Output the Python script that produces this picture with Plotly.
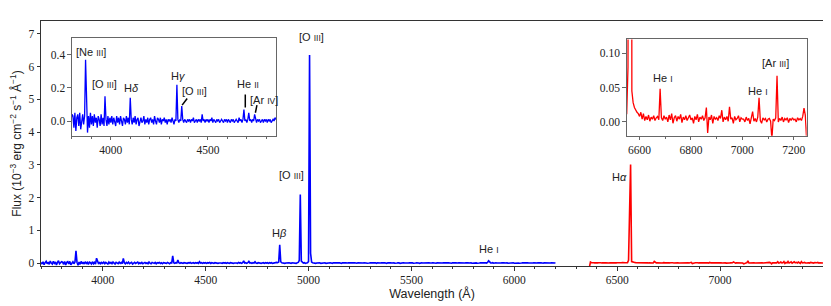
import plotly.graph_objects as go

# ---------------- data ----------------
blue_start = 3700.0   # Angstrom, first sample of the blue arm
blue_step = 5.0
blue_flux = (
    # 3700-3800
    [0.02, -0.03, 0.04, -0.05, 0.01, 0.05, -0.02, 0.03, -0.04, 0.06, 0.00,
     -0.03, 0.05, -0.01, 0.03, -0.06, 0.02, 0.07, -0.02, 0.01, 0.04]
    # 3805-3900
    + [0.03, -0.04, 0.05, -0.06, 0.02, 0.04, -0.03, 0.05, -0.05, 0.01,
       0.04, -0.02, 0.03, 0.37, 0.02, -0.07, 0.03, -0.04, 0.05, -0.02]
    # 3905-4000
    + [0.03, -0.03, 0.04, -0.01, 0.02, -0.04, 0.03, 0.01, -0.03, 0.04,
       -0.02, 0.02, -0.03, 0.15, 0.01, -0.03, 0.03, -0.02, 0.02, -0.01]
    # 4005-4100
    + [0.03, -0.02, 0.02, 0.00, -0.03, 0.03, -0.01, 0.02, -0.02, 0.03,
       0.00, -0.03, 0.02, 0.01, -0.02, 0.03, -0.01, 0.02, -0.02, 0.14]
    # 4105-4200
    + [0.01, -0.02, 0.02, -0.01, 0.03, -0.02, 0.01, 0.02, -0.03, 0.01,
       0.02, -0.01, 0.00, 0.03, -0.02, 0.01, -0.01, 0.02, -0.02, 0.01]
    # 4205-4300
    + [0.02, -0.01, 0.01, -0.02, 0.03, 0.00, -0.02, 0.02, 0.01, -0.01,
       0.02, -0.02, 0.01, 0.00, 0.02, -0.01, 0.01, -0.02, 0.01, 0.00]
    # 4305-4400
    + [0.01, -0.01, 0.02, 0.00, -0.02, 0.01, 0.00, 0.22, 0.01, -0.01,
       0.01, 0.00, 0.09, 0.01, -0.01, 0.01, 0.00, -0.01, 0.01, 0.00]
    # 4405-4500
    + [0.01, -0.01, 0.01, 0.00, 0.02, -0.01, 0.00, 0.01, -0.01, 0.01,
       0.00, 0.01, -0.01, 0.04, 0.00, 0.01, -0.01, 0.01, 0.00, 0.01]
    # 4505-4600
    + [-0.01, 0.01, 0.00, 0.02, -0.01, 0.01, 0.00, -0.01, 0.01, 0.00,
       0.01, -0.01, 0.00, 0.01, 0.00, -0.01, 0.01, 0.00, 0.01, -0.01]
    # 4605-4700
    + [0.01, 0.00, -0.01, 0.01, 0.00, 0.01, -0.01, 0.00, 0.01, 0.00,
       -0.01, 0.02, 0.00, 0.01, -0.01, 0.01, 0.07, 0.00, 0.01, -0.01]
    # 4705-4800
    + [0.01, 0.05, 0.00, 0.01, -0.01, 0.01, 0.00, 0.04, 0.00, -0.01,
       0.01, 0.00, 0.01, -0.01, 0.00, 0.01, -0.01, 0.01, 0.00, 0.01]
    # 4805-4900
    + [-0.01, 0.01, 0.00, 0.01, -0.01, 0.00, 0.01, 0.00, 0.02, 0.01,
       0.03, 0.56, 0.04, 0.01, 0.00, 0.01, -0.01, 0.00, 0.01, 0.00]
    # 4905-5000
    + [0.01, 0.00, -0.01, 0.01, 0.00, 0.01, 0.00, -0.01, 0.01, 0.02,
       0.08, 2.09, 0.06, 0.01, 0.00, 0.01, -0.01, 0.00, 0.01, 0.05]
    # 5005-5100
    + [6.35, 0.30, 0.03, 0.01, 0.00, 0.01, -0.01, 0.00, 0.01, 0.00,
       0.01, -0.01, 0.00, 0.01, 0.00, 0.01, -0.01, 0.00, 0.01, 0.00]
    # 5105-5200
    + [0.01, 0.00, -0.01, 0.01, 0.005, 0.00, 0.01, -0.005, 0.005, 0.01,
       0.00, -0.01, 0.01, 0.00, 0.005, 0.01, -0.005, 0.00, 0.01, 0.005]
    # 5205-5300
    + [0.00, 0.01, -0.01, 0.005, 0.01, 0.00, -0.005, 0.01, 0.005, 0.00,
       0.01, -0.01, 0.00, 0.005, 0.01, 0.00, -0.005, 0.01, 0.00, 0.005]
    # 5305-5400
    + [0.01, -0.005, 0.00, 0.01, 0.005, -0.01, 0.01, 0.00, 0.005, 0.00,
       0.01, -0.005, 0.005, 0.01, 0.00, -0.01, 0.005, 0.01, 0.00, 0.005]
    # 5405-5500
    + [0.00, 0.01, 0.005, -0.005, 0.01, 0.00, 0.005, 0.01, -0.01, 0.005,
       0.00, 0.01, 0.005, 0.00, -0.005, 0.01, 0.00, 0.005, 0.01, 0.00]
    # 5505-5600
    + [0.005, -0.005, 0.01, 0.00, 0.005, 0.01, 0.00, -0.01, 0.005, 0.01,
       0.00, 0.005, -0.005, 0.01, 0.00, 0.005, 0.01, 0.00, -0.005, 0.005]
    # 5605-5700
    + [0.01, 0.00, 0.005, -0.005, 0.01, 0.005, 0.00, 0.01, -0.005, 0.00,
       0.01, 0.005, 0.00, -0.01, 0.005, 0.01, 0.00, 0.005, -0.005, 0.01]
    # 5705-5800
    + [0.00, 0.005, 0.01, -0.005, 0.00, 0.01, 0.005, 0.00, -0.005, 0.01,
       0.005, 0.00, 0.01, -0.005, 0.005, 0.00, 0.01, 0.005, -0.005, 0.00]
    # 5805-5900
    + [0.01, 0.00, 0.005, -0.005, 0.01, 0.00, 0.005, 0.01, -0.005, 0.00,
       0.005, 0.01, 0.00, 0.02, 0.07, 0.02, 0.005, 0.00, 0.01, -0.005]
    # 5905-6000
    + [0.005, 0.01, 0.00, -0.005, 0.01, 0.005, 0.00, 0.01, -0.005, 0.005,
       0.00, 0.01, 0.005, -0.005, 0.00, 0.01, 0.005, 0.00, 0.01, -0.005]
    # 6005-6100
    + [0.00, 0.01, 0.005, 0.00, -0.005, 0.01, 0.00, 0.005, 0.01, -0.005,
       0.00, 0.005, 0.01, 0.00, -0.005, 0.01, 0.005, 0.00, 0.01, 0.00]
    # 6105-6200
    + [0.005, 0.00, 0.01, -0.005, 0.005, 0.01, 0.00, -0.005, 0.01, 0.005,
       0.00, 0.01, -0.005, 0.005, 0.00, 0.01, 0.005, -0.005, 0.01, 0.00]
)

red_start = 6365.0    # Angstrom, first sample of the red arm
red_step = 5.0
red_flux = (
    # 6365-6400
    [-0.12, 0.03, 0.01, 0.00, 0.01, 0.005, 0.00, 0.01]
    # 6405-6500
    + [0.005, 0.01, 0.0, 0.008, 0.004, 0.012, 0.0, 0.006, 0.01, 0.003,
       0.007, 0.0, 0.009, 0.005, 0.01, 0.002, 0.008, 0.004, 0.006, 0.01]
    # 6505-6600
    + [0.006, 0.01, 0.004, 0.008, 0.012, 0.005, 0.009, 0.007, 0.01, 0.012,
       0.08, 1.3, 3.01, 0.045, 0.028, 0.021, 0.017, 0.014, 0.012, 0.008]
    # 6605-6700
    + [0.014, 0.004, 0.012, 0.002, 0.008, 0.003, 0.01, 0.001, 0.007, 0.004,
       0.009, 0.002, 0.006, 0.008, 0.003, 0.048, 0.006, 0.002, 0.009, 0.004]
    # 6705-6800
    + [0.007, 0.0, 0.01, 0.003, 0.012, -0.002, 0.006, 0.009, 0.001, 0.008,
       0.004, 0.011, -0.001, 0.007, 0.003, 0.009, 0.002, 0.006, 0.01, 0.003]
    # 6805-6900
    + [0.006, -0.002, 0.008, 0.003, 0.011, 0.0, 0.007, 0.004, 0.009, 0.002,
       0.006, 0.021, -0.016, 0.007, 0.003, 0.01, -0.002, 0.008, 0.004, 0.006]
    # 6905-7000
    + [0.002, 0.009, 0.005, 0.017, 0.0, 0.007, 0.003, 0.008, 0.001, 0.022,
       0.004, 0.006, -0.002, 0.008, 0.003, 0.005, 0.009, 0.0, 0.006, 0.004]
    # 7005-7100
    + [0.004, 0.0, 0.007, 0.002, 0.005, -0.003, 0.006, 0.015, 0.001, 0.005,
       0.0, 0.007, 0.035, 0.002, -0.002, 0.006, 0.003, 0.005, 0.0, 0.004]
    # 7105-7200
    + [0.005, 0.001, -0.025, 0.004, 0.002, 0.006, 0.067, 0.0, 0.005, 0.002,
       0.007, 0.0, 0.005, 0.003, 0.006, -0.001, 0.005, 0.002, 0.006, 0.003]
    # 7205-7300
    + [0.004, 0.0, 0.006, 0.003, 0.005, 0.002, 0.008, 0.02, 0.01, -0.025,
       0.005, 0.01, 0.0, 0.02, 0.005, 0.04, 0.0, 0.01, 0.03, 0.005]
    # 7305-7400
    + [0.01, 0.045, -0.01, 0.02, 0.005, 0.05, 0.0, 0.015, 0.035, -0.005,
       0.01, 0.04, 0.005, 0.02, 0.0, 0.03, 0.01, -0.01, 0.045, 0.005]
    # 7405-7500
    + [0.01, 0.02, 0.0, 0.015, 0.005, 0.01, 0.0, 0.02, 0.005, 0.01,
       0.0, 0.015, 0.005, 0.01, 0.02, 0.0, 0.01, 0.005, 0.015, 0.0]
)

# tick layout: (first major tick, major step, minor step)
main_xticks = (4000, 500, 100)
main_yticks = (0, 1, None)
blue_inset_xticks = (4000, 500, 100)
blue_inset_yticks = (0.0, 0.2, None)
red_inset_xticks = (6600, 200, 100)
red_inset_yticks = (0.00, 0.05, None)

SC = "<span style='font-size:8.5px'>{}</span>"
main_labels = [  # (text, wavelength, flux)
    ("[O " + SC.format("III") + "]", 5015, 6.9),
    ("[O " + SC.format("III") + "]", 4917, 2.68),
    ("H<i>β</i>", 4857, 0.92),
    ("He " + SC.format("I"), 5878, 0.43),
    ("H<i>α</i>", 6509, 2.63),
]
blue_inset_labels = [
    ("[Ne " + SC.format("III") + "]", 3896, 0.416),
    ("[O " + SC.format("III") + "]", 3970, 0.226),
    ("H<i>δ</i>", 4107, 0.20),
    ("H<i>γ</i>", 4349, 0.27),
    ("[O " + SC.format("III") + "]", 4432, 0.18),
    ("He " + SC.format("II"), 4708, 0.222),
    ("[Ar " + SC.format("IV") + "]", 4790, 0.13),
]
blue_inset_leaders = [  # (x0, y0, x1, y1)
    (4367, 0.096, 4393, 0.136),
    (4692, 0.082, 4692, 0.160),
    (4744, 0.050, 4752, 0.096),
]
red_inset_labels = [
    ("He " + SC.format("I"), 6690, 0.064),
    ("He " + SC.format("I"), 7060, 0.045),
    ("[Ar " + SC.format("III") + "]", 7128, 0.085),
]

# ---------------- figure ----------------
blue_wave = [blue_start + blue_step * i for i in range(len(blue_flux))]
red_wave = [red_start + red_step * i for i in range(len(red_flux))]

BLUE = "#0000ff"
RED = "#ff0000"
TICKFONT = dict(family="Liberation Serif, DejaVu Serif, serif", size=11.5, color="#222")
SANS = "Liberation Sans, Arial, sans-serif"
MAINLINE = "#333"
INSETLINE = "#666"

fig = go.Figure()
fig.add_trace(go.Scatter(x=blue_wave, y=blue_flux, mode="lines",
                         line=dict(color=BLUE, width=1.6), xaxis="x", yaxis="y"))
fig.add_trace(go.Scatter(x=red_wave, y=red_flux, mode="lines",
                         line=dict(color=RED, width=1.6), xaxis="x", yaxis="y"))
fig.add_trace(go.Scatter(x=blue_wave, y=blue_flux, mode="lines",
                         line=dict(color=BLUE, width=1.3), xaxis="x2", yaxis="y2"))
fig.add_trace(go.Scatter(x=red_wave, y=red_flux, mode="lines",
                         line=dict(color=RED, width=1.3), xaxis="x3", yaxis="y3"))

def axis_style(linecolor, ticks, fmt=None):
    t0, dt, mdt = ticks
    d = dict(showline=True, linecolor=linecolor, linewidth=1, mirror=True,
             showgrid=False, zeroline=False, ticks="outside", ticklen=3.5,
             tickwidth=1, tickcolor=linecolor, tickfont=TICKFONT,
             tickmode="linear", tick0=t0, dtick=dt, automargin=False)
    if fmt:
        d["tickformat"] = fmt
    if mdt:
        d["minor"] = dict(ticks="outside", tickmode="linear", tick0=t0, dtick=mdt,
                          ticklen=2, tickwidth=1, tickcolor=linecolor, showgrid=False)
    return d

# the page body adds an 8px margin, so the figure is 8px smaller on each side
fig.update_layout(
    width=823, height=298,
    margin=dict(l=33, r=8, t=13, b=40),
    paper_bgcolor="white", plot_bgcolor="white",
    showlegend=False,
    xaxis=dict(**axis_style(MAINLINE, main_xticks), domain=[0, 1], range=[3700, 7500],
               title=dict(text="Wavelength (Å)", font=dict(family=SANS, size=12.5, color="#222"),
                          standoff=3)),
    yaxis=dict(**axis_style(MAINLINE, main_yticks), domain=[0, 1], range=[-0.09, 7.39],
               title=dict(text="Flux (10<sup>−3</sup> erg cm<sup>−2</sup> s<sup>−1</sup> Å<sup>−1</sup>)",
                          font=dict(family=SANS, size=12, color="#222"), standoff=8)),
    xaxis2=dict(**axis_style(INSETLINE, blue_inset_xticks), domain=[0.0396, 0.3005], anchor="y2",
                range=[3800, 4850]),
    yaxis2=dict(**axis_style(INSETLINE, blue_inset_yticks, ".1f"), domain=[0.531, 0.929],
                anchor="x2", range=[-0.09, 0.5]),
    xaxis3=dict(**axis_style(INSETLINE, red_inset_xticks), domain=[0.749, 0.979], anchor="y3",
                range=[6550, 7250]),
    yaxis3=dict(**axis_style(INSETLINE, red_inset_yticks, ".2f"), domain=[0.532, 0.925],
                anchor="x3", range=[-0.02, 0.12]),
)

def add_labels(labels, xref, yref):
    for text, x, y in labels:
        fig.add_annotation(x=x, y=y, xref=xref, yref=yref, text=text, showarrow=False,
                           font=dict(family=SANS, size=11, color="#222"),
                           xanchor="center", yanchor="middle")

add_labels(main_labels, "x", "y")
add_labels(blue_inset_labels, "x2", "y2")
add_labels(red_inset_labels, "x3", "y3")

for x0, y0, x1, y1 in blue_inset_leaders:
    fig.add_shape(type="line", x0=x0, y0=y0, x1=x1, y1=y1, xref="x2", yref="y2",
                  line=dict(color="black", width=1.5))

fig.write_html("out.html")
